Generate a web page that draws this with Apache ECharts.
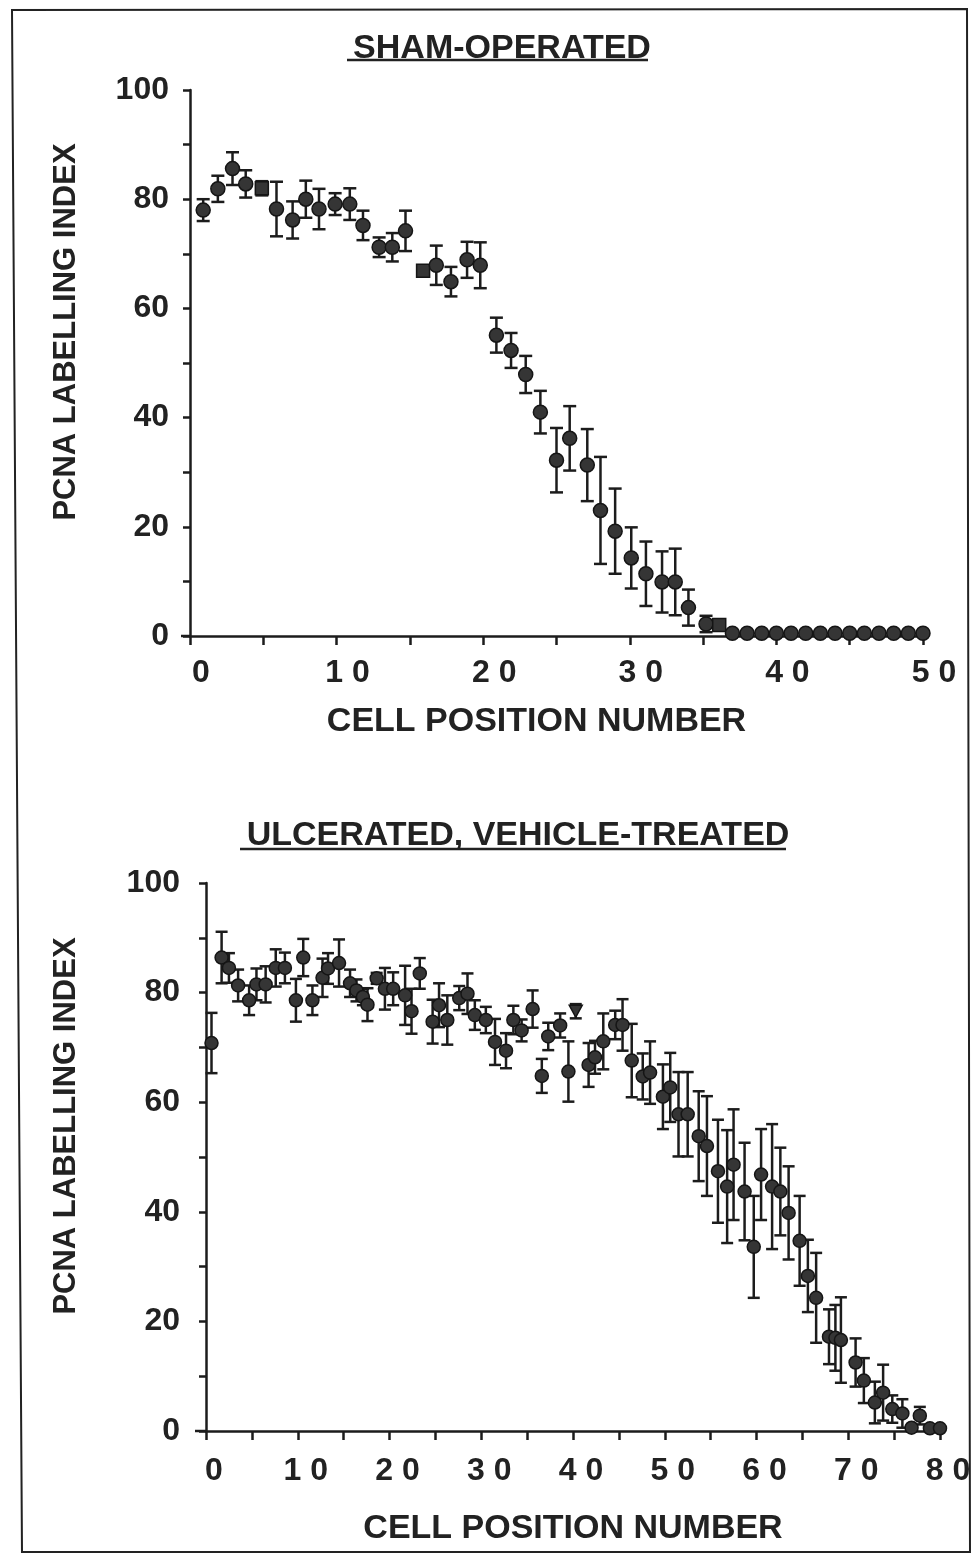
<!DOCTYPE html>
<html>
<head>
<meta charset="utf-8">
<script src="https://cdn.jsdelivr.net/npm/echarts@6/dist/echarts.min.js"></script>
<style>
  html, body { margin: 0; padding: 0; background: #ffffff; }
  #chart { width: 974px; height: 1554px; }
</style>
</head>
<body>
<div id="chart"></div>
<script>
// ---------- DATA ----------
// Top panel: sham-operated
const shamTitle = 'SHAM-OPERATED';
const shamCell = [0.9,1.9,2.9,3.8,4.9,5.9,7.0,7.9,8.8,9.9,10.9,11.8,12.9,13.8,14.7,15.9,16.8,17.8,18.9,19.8,
  20.9,21.9,22.9,23.9,25.0,25.9,27.1,28.0,29.0,30.1,31.1,32.2,33.1,34.0,35.2,36.1,
  37,38,39,40,41,42,43,44,45,46,47,48,49,50];
const shamIndex = [78.0,81.9,85.6,82.8,82.0,78.2,76.2,80.0,78.2,79.1,79.1,75.2,71.2,71.2,74.2,66.9,67.9,64.9,68.9,67.9,
  55.1,52.3,47.9,41.0,32.2,36.2,31.3,23.0,19.2,14.3,11.4,9.9,9.9,5.2,2.2,2.0,
  0.5,0.5,0.5,0.5,0.5,0.5,0.5,0.5,0.5,0.5,0.5,0.5,0.5,0.5];
const shamErr = [2.0,2.4,3.0,2.5,1.3,5.0,3.4,3.4,3.7,2.0,2.9,2.7,1.8,2.6,3.7,0,3.6,2.7,3.3,4.2,
  3.2,3.2,3.4,3.9,5.9,5.9,6.6,9.8,7.8,5.6,5.9,5.6,6.1,3.3,1.5,0,
  0,0,0,0,0,0,0,0,0,0,0,0,0,0];

// Bottom panel: ulcerated, vehicle-treated
const ulcTitle = 'ULCERATED, VEHICLE-TREATED';
const ulcCell = [0.6,1.7,2.5,3.5,4.7,5.5,6.5,7.6,8.6,9.8,10.6,11.6,12.7,13.3,14.5,15.7,16.4,17.1,17.6,18.6,
  19.5,20.4,21.7,22.4,23.3,24.7,25.4,26.3,27.6,28.5,29.3,30.5,31.5,32.7,33.5,34.4,35.6,36.6,37.3,38.6,
  39.5,40.3,41.7,42.4,43.3,44.6,45.4,46.4,47.6,48.4,49.8,50.6,51.5,52.5,53.7,54.6,55.8,56.8,57.5,58.7,
  59.7,60.5,61.7,62.6,63.5,64.7,65.6,66.5,67.9,68.6,69.2,70.8,71.7,72.9,73.8,74.8,75.9,76.9,77.8,78.9,80.0];
const ulcIndex = [70.8,86.4,84.5,81.3,78.6,81.5,81.5,84.5,84.5,78.6,86.4,78.6,82.7,84.4,85.4,81.7,80.4,79.2,77.8,82.6,
  80.7,80.7,79.5,76.6,83.5,74.7,77.7,75.0,79.0,79.8,75.9,75.0,71.0,69.4,75.0,73.1,77.0,64.8,72.0,74.0,
  65.6,76.6,66.8,68.2,71.1,74.1,74.1,67.6,64.7,65.4,61.0,62.7,57.8,57.8,53.8,52.0,47.4,44.6,48.6,43.7,
  33.6,46.8,44.6,43.7,39.8,34.7,28.3,24.3,17.2,17.0,16.6,12.5,9.2,5.2,7.0,4.0,3.2,0.6,2.8,0.5,0.5];
const ulcErr = [5.5,4.7,2.7,2.9,2.7,2.9,3.3,3.4,2.8,3.9,3.4,2.7,3.5,2.8,4.3,2.5,2.0,1.5,3.0,1.0,
  3.8,3.0,5.4,4.1,2.8,4.0,4.0,4.5,2.2,3.7,2.7,2.4,4.2,3.2,2.6,2.0,3.4,3.1,2.5,2.2,
  5.5,1.3,4.0,3.0,5.1,2.6,4.7,6.7,4.2,5.7,5.9,6.3,7.7,7.7,8.2,9.1,9.4,10.3,10.1,8.9,
  9.3,8.3,11.4,8.0,8.5,8.2,6.6,8.2,5.0,6.0,7.8,4.4,4.1,3.8,5.1,2.5,2.6,0,1.6,0,0];

const xTitle = 'CELL POSITION NUMBER';
const yTitle = 'PCNA LABELLING INDEX';
const shamXTicks = [0, 10, 20, 30, 40, 50];
const ulcXTicks = [0, 10, 20, 30, 40, 50, 60, 70, 80];
const yTicks = [0, 20, 40, 60, 80, 100];

// ---------- STYLE ----------
const INK = '#1c1c1c';
const FONT = '"Liberation Sans", Arial, Helvetica, sans-serif';
const shamSquares = [4, 15, 35];   // marker drawn as filled square
const ulcTriangles = [41];          // marker drawn as inverted triangle

function spaced(v) { return String(v).split('').join(' '); }

function xAxisCfg(grid, max, ticks, labelPad, labelMargin, name, nameGap, namePad) {
  return {
    type: 'value', gridIndex: grid, min: 0, max: max, interval: 5,
    axisLine: { onZero: false, lineStyle: { color: INK, width: 2.5 } },
    axisTick: { show: true, length: 9, lineStyle: { color: INK, width: 2.5 } },
    splitLine: { show: false },
    axisLabel: {
      margin: labelMargin, color: '#222', fontFamily: FONT, fontWeight: 'bold', fontSize: 32,
      padding: labelPad, showMinLabel: true, showMaxLabel: true,
      formatter: v => ticks.indexOf(v) >= 0 ? spaced(v) : ''
    },
    name: name, nameLocation: 'middle', nameGap: nameGap,
    nameTextStyle: { color: '#222', fontFamily: FONT, fontWeight: 'bold', fontSize: 34, padding: namePad }
  };
}
function yAxisCfg(grid, labelMargin, nameGap) {
  return {
    type: 'value', gridIndex: grid, min: 0, max: 100, interval: 10,
    axisLine: { onZero: false, lineStyle: { color: INK, width: 2.5 } },
    axisTick: { show: true, length: 7, lineStyle: { color: INK, width: 2.5 } },
    splitLine: { show: false },
    axisLabel: {
      margin: labelMargin, color: '#222', fontFamily: FONT, fontWeight: 'bold', fontSize: 32,
      formatter: v => yTicks.indexOf(v) >= 0 ? String(v) : ''
    },
    name: yTitle, nameLocation: 'middle', nameGap: nameGap, nameRotate: 90,
    nameTextStyle: { color: '#222', fontFamily: FONT, fontWeight: 'bold', fontSize: 31, padding: [0, 0, 0, 62] }
  };
}

function errSeries(axisIdx, xs, ys, es, capW) {
  return {
    type: 'custom', xAxisIndex: axisIdx, yAxisIndex: axisIdx, z: 2,
    data: xs.map((x, i) => [x, ys[i], es[i]]),
    encode: { x: 0, y: 1 },
    renderItem: function (params, api) {
      const x = api.value(0), y = api.value(1), e = api.value(2);
      if (!e) return null;
      const t = api.coord([x, y + e]), b = api.coord([x, y - e]);
      const w = capW / 2;
      const st = { stroke: INK, lineWidth: 2.5 };
      return {
        type: 'group', children: [
          { type: 'line', shape: { x1: t[0], y1: t[1], x2: b[0], y2: b[1] }, style: st },
          { type: 'line', shape: { x1: t[0] - w, y1: t[1], x2: t[0] + w, y2: t[1] }, style: st },
          { type: 'line', shape: { x1: b[0] - w, y1: b[1], x2: b[0] + w, y2: b[1] }, style: st }
        ]
      };
    }
  };
}

function pointSeries(axisIdx, xs, ys, size, squares, tris) {
  return {
    type: 'scatter', xAxisIndex: axisIdx, yAxisIndex: axisIdx, z: 3,
    symbolSize: size,
    itemStyle: { color: '#353535', borderColor: '#151515', borderWidth: 1.5, opacity: 1 },
    data: xs.map((x, i) => {
      const d = { value: [x, ys[i]] };
      if (squares.indexOf(i) >= 0) { d.symbol = 'rect'; d.symbolSize = size - 1; }
      if (tris.indexOf(i) >= 0) { d.symbol = 'triangle'; d.symbolRotate = 180; d.symbolSize = [13, 12]; }
      return d;
    })
  };
}

const chart = echarts.init(document.getElementById('chart'), null, { renderer: 'canvas' });
chart.setOption({
  backgroundColor: '#ffffff',
  animation: false,
  title: [
    { text: shamTitle, left: 497, top: 27, textAlign: 'center',
      textStyle: { color: '#222', fontFamily: FONT, fontWeight: 'bold', fontSize: 34 } },
    { text: ulcTitle, left: 513, top: 814, textAlign: 'center',
      textStyle: { color: '#222', fontFamily: FONT, fontWeight: 'bold', fontSize: 34 } }
  ],
  grid: [
    { left: 190, top: 90, width: 733, height: 546 },
    { left: 206, top: 883, width: 734, height: 548 }
  ],
  xAxis: [
    xAxisCfg(0, 50, shamXTicks, [0, 0, 0, 22], 21, xTitle, 69, [0, 40, 0, 0]),
    xAxisCfg(1, 80, ulcXTicks, [0, 0, 0, 16], 24, xTitle, 81, [0, 0, 0, 0])
  ],
  yAxis: [
    yAxisCfg(0, 21, 108),
    yAxisCfg(1, 26, 124)
  ],
  series: [
    errSeries(0, shamCell, shamIndex, shamErr, 13),
    pointSeries(0, shamCell, shamIndex, 14, shamSquares, []),
    errSeries(1, ulcCell, ulcIndex, ulcErr, 12),
    pointSeries(1, ulcCell, ulcIndex, 13, [], ulcTriangles)
  ],
  graphic: [
    // figure frame
    { type: 'polygon', shape: { points: [[12, 10], [967, 9], [970, 1552], [22, 1552]] },
      style: { fill: 'none', stroke: '#222', lineWidth: 2 }, silent: true },
    // title underlines
    { type: 'line', shape: { x1: 347, y1: 60, x2: 648, y2: 60 }, style: { stroke: '#222', lineWidth: 2.5 } },
    { type: 'line', shape: { x1: 240, y1: 849, x2: 786, y2: 849 }, style: { stroke: '#222', lineWidth: 2.5 } },
    // short x-axis overhang left of the y-axis, as in the original
    { type: 'line', shape: { x1: 181, y1: 636, x2: 190, y2: 636 }, style: { stroke: INK, lineWidth: 2.5 } },
    { type: 'line', shape: { x1: 195, y1: 1431, x2: 206, y2: 1431 }, style: { stroke: INK, lineWidth: 2.5 } }
  ]
});
</script>
</body>
</html>
